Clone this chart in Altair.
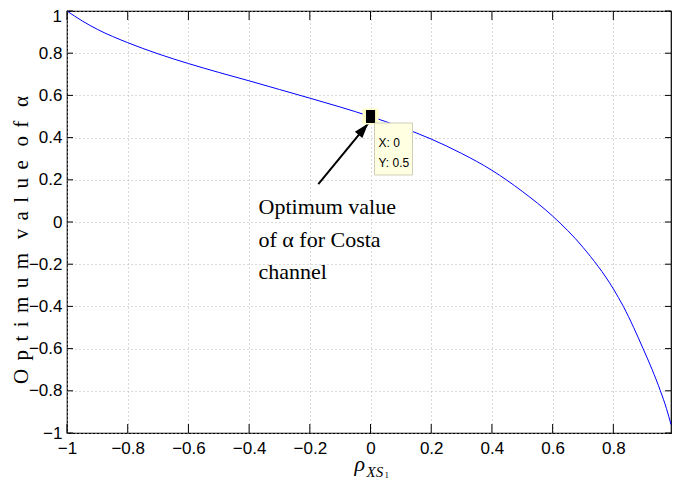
import altair as alt
import pandas as pd

# ---- data ----
rho = [-1.0, -0.95, -0.9, -0.8, -0.7, -0.6, -0.5, -0.4, -0.3, -0.2, -0.1, 0.0,
       0.1, 0.2, 0.3, 0.4, 0.5, 0.6, 0.7, 0.8, 0.833, 0.867, 0.898,
       0.928, 0.955, 0.975, 0.99]
alpha = [1.0, 0.953, 0.913, 0.85, 0.797, 0.751, 0.709, 0.669, 0.628, 0.587, 0.545, 0.5,
         0.45, 0.393, 0.325, 0.245, 0.145, 0.028, -0.12, -0.317, -0.40, -0.50, -0.60,
         -0.70, -0.80, -0.884, -0.96]
x_ticks = [-1.0, -0.8, -0.6, -0.4, -0.2, 0.0, 0.2, 0.4, 0.6, 0.8]
y_ticks = [-1.0, -0.8, -0.6, -0.4, -0.2, 0.0, 0.2, 0.4, 0.6, 0.8, 1.0]
tip_x = [0.0]
tip_y = [0.5]
tip_text = ["X: 0", "Y: 0.5"]
arrow_from = [-0.172, 0.18]
arrow_to = [-0.0075, 0.467]
note_lines = ["Optimum value", "of α for Costa", "channel"]

X_MIN, X_MAX = -1.0, 0.99
W, H = 604, 422
X0 = W * (0 - X_MIN) / (X_MAX - X_MIN)   # pixel of x = 0 inside the plot

curve = pd.DataFrame({"x": rho, "y": alpha})
xt = pd.DataFrame({"x": x_ticks})
yt = pd.DataFrame({"y": y_ticks})

xs = alt.Scale(domain=[X_MIN, X_MAX], nice=False, zero=False)
ys = alt.Scale(domain=[-1, 1], nice=False, zero=False)

TICKFONT = "Liberation Sans Narrow, Liberation Sans"
SERIF = "Liberation Serif, DejaVu Serif"

AX = alt.Axis(values=x_ticks, format="~g", grid=True, ticks=False, domain=False,
              labelPadding=7, labelFontSize=17, labelFont=TICKFONT,
              labelColor="black", gridColor="#b4b4b4", gridDash=[1, 3],
              labelFlush=False, title=None)
AY = alt.Axis(values=y_ticks, format="~g", grid=True, ticks=False, domain=False,
              labelPadding=5, labelFontSize=17, labelFont=TICKFONT,
              labelColor="black", gridColor="#b4b4b4", gridDash=[1, 3],
              labelFlush=False, title=None,
              labelExpr="datum.value >= 1 ? '' : datum.label")


def X(f):
    return alt.X(f, scale=xs, axis=AX, title=None)


def Y(f):
    return alt.Y(f, scale=ys, axis=AY, title=None)


line = alt.Chart(curve).mark_line(color="#0000ff", strokeWidth=1, interpolate="monotone").encode(
    x=X("x:Q"), y=Y("y:Q"))

bt = alt.Chart(xt).mark_rule(color="black", strokeWidth=1).encode(
    x=X("x:Q"), y=alt.value(H), y2=alt.value(H - 9))
tt = alt.Chart(xt).mark_rule(color="black", strokeWidth=1).encode(
    x=X("x:Q"), y=alt.value(0), y2=alt.value(9))
lt = alt.Chart(yt).mark_rule(color="black", strokeWidth=1).encode(
    y=Y("y:Q"), x=alt.value(0), x2=alt.value(6))
rt = alt.Chart(yt).mark_rule(color="black", strokeWidth=1).encode(
    y=Y("y:Q"), x=alt.value(W - 6), x2=alt.value(W))

tipdf = pd.DataFrame({"x": tip_x, "y": tip_y})

# top y tick label, nudged down so it stays inside the page (as in the reference)
top_label = alt.Chart(tipdf).mark_text(text="1", align="right", baseline="middle", fontSize=17,
                                       font=TICKFONT, color="black").encode(
    x=alt.value(-5), y=alt.value(6))

halo = alt.Chart(tipdf).mark_point(shape="M-1,-1L1,-1L1,1L-1,1Z", filled=True, size=256,
                                   color="#ffffc8", opacity=1).encode(x=X("x:Q"), y=Y("y:Q"))
sq = alt.Chart(tipdf).mark_point(shape="M-0.7,-1L0.7,-1L0.7,1L-0.7,1Z", filled=True, size=169,
                                 color="black", opacity=1).encode(x=X("x:Q"), y=Y("y:Q"))

box = alt.Chart(tipdf).mark_rect(fill="#ffffe1", stroke="#cfcfb8", strokeWidth=1).encode(
    x=alt.value(X0 + 4), x2=alt.value(X0 + 42), y=alt.value(112), y2=alt.value(164))
tiptexts = [
    alt.Chart(tipdf).mark_text(text=t, align="left", baseline="alphabetic", fontSize=12,
                               font=TICKFONT, color="black").encode(
        x=alt.value(X0 + 8), y=alt.value(136 + 20 * i))
    for i, t in enumerate(tip_text)
]

arr = pd.DataFrame({"x": [arrow_from[0]], "y": [arrow_from[1]],
                    "x2": [arrow_to[0]], "y2": [arrow_to[1]]})
shaft = alt.Chart(arr).mark_rule(color="black", strokeWidth=2).encode(
    x=X("x:Q"), y=Y("y:Q"), x2="x2:Q", y2="y2:Q")
head = alt.Chart(arr).mark_point(shape="M0,0L0.65,2L-0.65,2Z", filled=True, size=225,
                                 color="black", opacity=1, angle=40).encode(
    x=X("x2:Q"), y=Y("y2:Q"))

notes = [
    alt.Chart(tipdf).mark_text(text=t, align="left", baseline="middle", fontSize=22,
                               font=SERIF, color="black").encode(
        x=alt.value(X0 - 112), y=alt.value(196 + 32.5 * i))
    for i, t in enumerate(note_lines)
]

# axis titles
g = "\u2009\u2009"           # letter gap
wgap = "\u00a0\u2009\u2009"  # word gap
ytxt = g.join("Optimum") + wgap + g.join("value") + wgap + g.join("of") + wgap + "α"
ytitle = alt.Chart(tipdf).mark_text(text=ytxt, angle=270, align="center", baseline="middle",
                                    fontSize=21, font=SERIF, color="black").encode(
    x=alt.value(-45), y=alt.value(229))
xt1 = alt.Chart(tipdf).mark_text(text="ρ", align="left", baseline="alphabetic", fontSize=22,
                                 font=SERIF, fontStyle="italic", color="black").encode(
    x=alt.value(X0 - 16), y=alt.value(460))
xt2 = alt.Chart(tipdf).mark_text(text="XS", align="left", baseline="alphabetic", fontSize=15,
                                 font=SERIF, fontStyle="italic", color="black").encode(
    x=alt.value(X0 - 4), y=alt.value(466))
xt3 = alt.Chart(tipdf).mark_text(text="1", align="left", baseline="alphabetic", fontSize=9,
                                 font=SERIF, color="black").encode(
    x=alt.value(X0 + 14), y=alt.value(467))

chart = alt.layer(line, bt, tt, lt, rt, shaft, head, halo, sq, box, *tiptexts, *notes,
                  top_label, ytitle, xt1, xt2, xt3).properties(
    width=W, height=H,
    autosize=alt.AutoSizeParams(type="none"),
    padding={"left": 59, "top": 3, "right": 1, "bottom": 47},
    background="white",
).configure_view(stroke="black", strokeWidth=1.2)

chart.save("out.html", embed_options={"renderer": "svg", "actions": False})
